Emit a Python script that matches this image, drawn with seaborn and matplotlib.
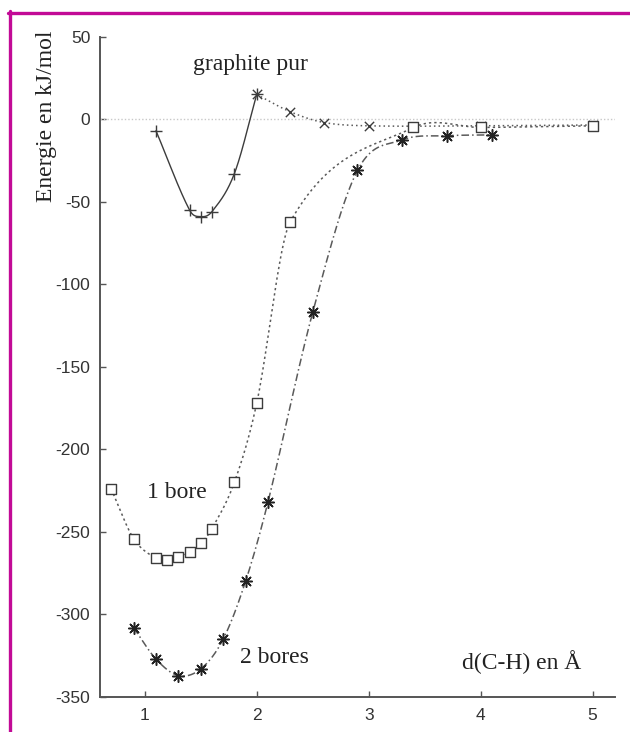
import matplotlib
matplotlib.use("Agg")
import matplotlib.pyplot as plt
import seaborn as sns
import numpy as np
from matplotlib.lines import Line2D

# valeurs (d en Angstrom, energie en kJ/mol)
d_graphite = [1.1, 1.4, 1.5, 1.6, 1.8, 2.0]
e_graphite = [-7, -55, -59, -56, -33, 15]
d_graphite_x = [2.0, 2.3, 2.6, 3.0, 4.0, 5.0]
e_graphite_x = [15, 4.5, -2, -4, -4, -3.5]
d_bore1 = [0.7, 0.9, 1.1, 1.2, 1.3, 1.4, 1.5, 1.6, 1.8, 2.0, 2.3, 3.4, 4.0, 5.0]
e_bore1 = [-224, -254, -266, -267, -265, -262, -257, -248, -220, -172, -62, -5, -5, -4]
d_bore2 = [0.9, 1.1, 1.3, 1.5, 1.7, 1.9, 2.1, 2.5, 2.9, 3.3, 3.7, 4.1]
e_bore2 = [-308, -327, -337, -333, -315, -280, -232, -117, -31, -12.5, -10, -9.5]
xticks = [1, 2, 3, 4, 5]
yticks = [50, 0, -50, -100, -150, -200, -250, -300, -350]


def lisse(x, y, n=300):
    # courbe de Hermite (tangentes type Catmull-Rom) passant par les points, pour le trace
    x = np.asarray(x, float)
    y = np.asarray(y, float)
    m = np.zeros_like(y)
    m[1:-1] = (y[2:] - y[:-2]) / (x[2:] - x[:-2])
    m[0] = (y[1] - y[0]) / (x[1] - x[0])
    m[-1] = (y[-1] - y[-2]) / (x[-1] - x[-2])
    xs = np.linspace(x[0], x[-1], n)
    i = np.clip(np.searchsorted(x, xs) - 1, 0, len(x) - 2)
    h = x[i + 1] - x[i]
    t = (xs - x[i]) / h
    h00 = 2 * t ** 3 - 3 * t ** 2 + 1
    h10 = t ** 3 - 2 * t ** 2 + t
    h01 = -2 * t ** 3 + 3 * t ** 2
    h11 = t ** 3 - t ** 2
    return xs, h00 * y[i] + h10 * h * m[i] + h01 * y[i + 1] + h11 * h * m[i + 1]


sns.set_theme(style="ticks")
plt.rcParams['font.family'] = ['Liberation Sans', 'DejaVu Sans']
plt.rcParams['axes.unicode_minus'] = False

fig = plt.figure(figsize=(6.3, 7.32), dpi=100)
fig.patch.set_facecolor('white')
ax = fig.add_axes([0.1587, 0.0478, 0.8175, 0.9021])
ax.set_facecolor('white')

# ligne de reference a zero
ax.axhline(0, color='#c8c8c8', lw=1, ls=(0, (1, 1.5)), zorder=1)

gris = '#3c3c3c'
gris2 = '#5a5a5a'

xs, ys = lisse(d_graphite, e_graphite)
sns.lineplot(x=xs, y=ys, ax=ax, color=gris, lw=1.0, sort=False)
xs, ys = lisse(d_graphite_x, e_graphite_x)
sns.lineplot(x=xs, y=ys, ax=ax, color=gris2, lw=1.1, sort=False, linestyle=(0, (1, 2)))
xs, ys = lisse(d_bore1, e_bore1)
sns.lineplot(x=xs, y=ys, ax=ax, color=gris2, lw=1.1, sort=False, linestyle=(0, (1.5, 2)))
xs, ys = lisse(d_bore2, e_bore2)
sns.lineplot(x=xs, y=ys, ax=ax, color=gris2, lw=1.1, sort=False, linestyle=(0, (5, 2, 1, 2)))

sns.scatterplot(x=d_graphite, y=e_graphite, ax=ax, marker='+', s=70, color=gris, linewidth=1.0, zorder=3)
sns.scatterplot(x=d_graphite_x, y=e_graphite_x, ax=ax, marker='x', s=45, color=gris, linewidth=1.0, zorder=3)
sns.scatterplot(x=d_bore1, y=e_bore1, ax=ax, marker='s', s=50, facecolor='white',
                edgecolor=gris, linewidth=1.0, zorder=3)
sns.scatterplot(x=d_bore2, y=e_bore2, ax=ax, marker=(8, 2, 0), s=70, color='#222222',
                linewidth=1.1, zorder=3)

ax.set_xlim(0.6, 5.2)
ax.set_ylim(-350, 50)
ax.set_xticks(xticks)
ax.set_yticks(yticks)
ax.tick_params(direction='in', length=4, width=1, color='#555555', labelsize=12.5,
               labelcolor='#333333')
ax.tick_params(axis='x', pad=8)
ax.tick_params(axis='y', pad=7)
for side in ['top', 'right']:
    ax.spines[side].set_visible(False)
for side in ['left', 'bottom']:
    ax.spines[side].set_color('#555555')
    ax.spines[side].set_linewidth(1.4)
ax.set_xlabel('')
ax.set_ylabel('')

serif = ['Liberation Serif', 'DejaVu Serif']
ax.text(1.43, 33, 'graphite pur', family=serif, fontsize=17, color='#222222', va='center')
ax.text(1.02, -226, '1 bore', family=serif, fontsize=17, color='#222222', va='center')
ax.text(1.85, -326, '2 bores', family=serif, fontsize=17, color='#222222', va='center')
ax.text(3.83, -329, 'd(C-H) en Å', family=serif, fontsize=17, color='#222222', va='center')
fig.text(0.0746, 0.8415, 'Energie en kJ/mol', family=serif, fontsize=17, color='#222222',
         rotation=90, ha='center', va='center')

# cadre magenta
mag = '#c20a96'
fig.add_artist(Line2D([8 / 630, 1], [1 - 12.5 / 732, 1 - 12.5 / 732], color=mag, lw=2.4,
                      transform=fig.transFigure))
fig.add_artist(Line2D([9.5 / 630, 9.5 / 630], [0, 1 - 11 / 732], color=mag, lw=2.4,
                      transform=fig.transFigure))

fig.savefig('out.png', dpi=100, facecolor='white')
